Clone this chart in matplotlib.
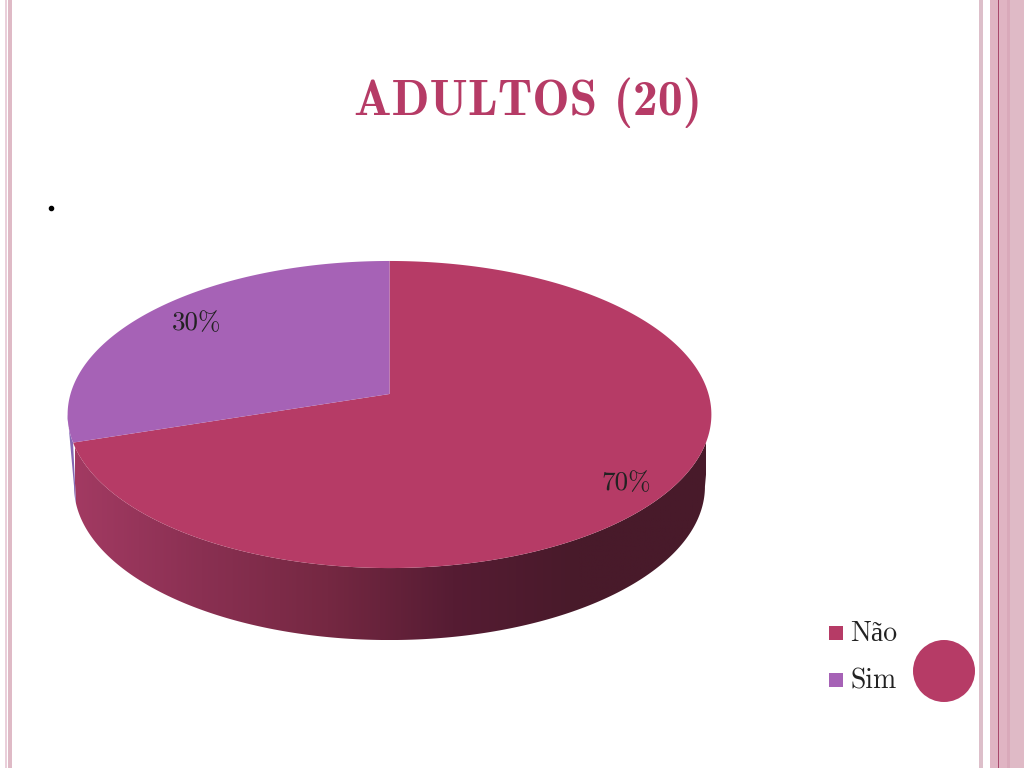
import numpy as np
import matplotlib
matplotlib.use("Agg")
import matplotlib.pyplot as plt
from matplotlib.colors import LinearSegmentedColormap
from matplotlib.patches import Circle, Polygon, Rectangle

title = "ADULTOS (20)"
categories = ["Não", "Sim"]
values = [70, 30]
labels = ["70%", "30%"]
colors = ["#B63B66", "#A662B6"]
shade_stops = ["#A23A62", "#8A3052", "#752842", "#561C33", "#481A2A", "#481A2A"]

serif = ["cmr10", "Liberation Serif"]

fig = plt.figure(figsize=(10.24, 7.68), dpi=100)
ax = fig.add_axes([0, 0, 1, 1])
ax.axis("off")


# circle seen in perspective, angles go clockwise from the top
def project(t, a=319, b=150.8, k=0.1336, cx=389.5, cy=394):
    u, v = np.sin(t), np.cos(t)
    return cx + a * u / (1 + k * v), cy - b * v / (1 + k * v)


def lower(t):
    # lower rim is a bit narrower than the top
    x, y = project(t)
    return 389.5 + (x - 389.5) * 0.98, y + 72


# page decoration
for x0, x1, c in [(979, 983, "#DDBFCA"), (990, 998, "#E0B4C3"), (998, 999, "#A8486C"),
                  (999, 1007, "#E0B4C3"), (1007, 1010, "#D9A9BA"), (1010, 1024, "#DFBAC6"),
                  (5, 7, "#EACFDA"), (8, 12, "#DFBAC6")]:
    ax.add_patch(Rectangle((x0, 0), x1 - x0, 768, color=c, lw=0))

ax.text(528.5, 103, title, family="cmb10", fontsize=35.8,
        color="#B63B66", ha="center", va="center")
ax.plot([51], [208], "o", color="black", ms=3)

# slices start at 12 o'clock
edges = np.concatenate([[0], np.cumsum(values)]) / np.sum(values) * 2 * np.pi
widest = np.pi / 2 + 0.134
left_widest = 2 * np.pi - widest

# side wall of the big slice, shaded left to right
top_x, top_y = project(np.linspace(1.79, edges[1], 200))
low_x, low_y = lower(np.linspace(4.47, widest, 200))
wall = Polygon(np.c_[np.r_[top_x, low_x], np.r_[top_y, low_y]], closed=True,
               fc="none", ec="none", transform=ax.transData)
ax.add_patch(wall)
cmap = LinearSegmentedColormap.from_list("wall", shade_stops)
grad = ax.imshow(np.linspace(0, 1, 256).reshape(1, -1), cmap=cmap, aspect="auto",
                 extent=(75, 706, 640, 400), zorder=1)
grad.set_clip_path(wall)

# purple sliver on the far left
top_x, top_y = project(np.linspace(edges[1], left_widest, 30))
low_x, low_y = lower(np.linspace(left_widest, 4.47, 30))
ax.fill(np.r_[top_x, low_x], np.r_[top_y, low_y], color="#8468B4", lw=0, zorder=1)

# top faces
centre_x, centre_y = project(0.0, a=0, b=0)
for i in range(len(values)):
    x, y = project(np.linspace(edges[i], edges[i + 1], 300))
    ax.fill(np.r_[centre_x, x], np.r_[centre_y, y], color=colors[i], lw=0, zorder=2)

ax.text(626, 483, labels[0], family=serif, fontsize=19.5, color="#222222", ha="center", va="center", zorder=3)
ax.text(197, 323, labels[1], family=serif, fontsize=19.5, color="#222222", ha="center", va="center", zorder=3)

# legend
for name, c, yy in zip(categories, colors, [633, 680]):
    ax.add_patch(Rectangle((829, yy - 7), 14, 14, color=c, lw=0))
    ax.text(850, yy + 1, name, family=serif, fontsize=20, color="#222222", ha="left", va="center")

ax.add_patch(Circle((944, 671), 31, color="#B63B66", lw=0))

ax.set_xlim(0, 1024)
ax.set_ylim(768, 0)
fig.savefig("out.png", dpi=100)
